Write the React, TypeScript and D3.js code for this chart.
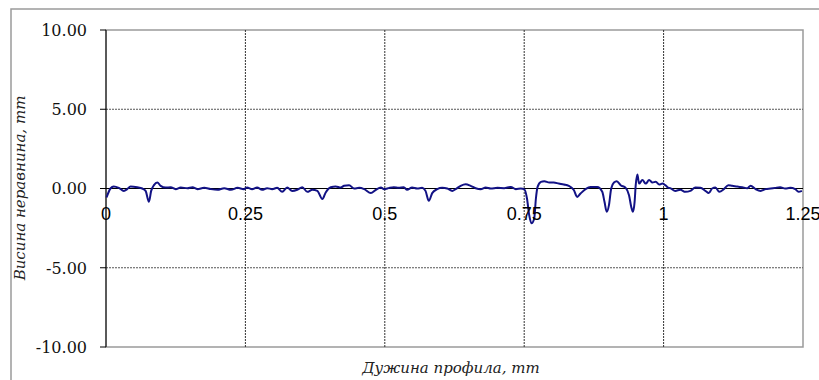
import React from 'react';
import * as d3 from 'd3';

// profile length, mm
const profileX = [
  0.001, 0.008, 0.014, 0.023, 0.032, 0.038, 0.044, 0.056, 0.065, 0.071, 0.077, 0.081, 0.086, 0.092, 0.098,
  0.107, 0.116, 0.125, 0.134, 0.146, 0.155, 0.164, 0.176, 0.188, 0.2, 0.212, 0.224, 0.236, 0.247,
  0.253, 0.262, 0.271, 0.28, 0.289, 0.298, 0.307, 0.316, 0.325, 0.334, 0.343, 0.352, 0.361, 0.37, 0.379,
  0.388, 0.394, 0.403, 0.412, 0.421, 0.427, 0.436, 0.445, 0.454, 0.463, 0.475, 0.484, 0.493, 0.499,
  0.508, 0.516, 0.525, 0.534, 0.54, 0.549, 0.558, 0.567, 0.573, 0.579, 0.585, 0.594, 0.603, 0.612, 0.621,
  0.627, 0.636, 0.645, 0.654, 0.663, 0.672, 0.681, 0.69, 0.702, 0.714, 0.726, 0.735, 0.744, 0.75,
  0.755, 0.759, 0.763, 0.768, 0.771, 0.774, 0.78, 0.786, 0.795, 0.803, 0.812, 0.821, 0.83, 0.839, 0.845,
  0.851, 0.86, 0.869, 0.881, 0.89, 0.894, 0.898, 0.902, 0.906, 0.911, 0.916, 0.923, 0.932, 0.938, 0.942,
  0.945, 0.948, 0.95, 0.953, 0.956, 0.962, 0.968, 0.974, 0.98, 0.986, 0.992, 0.998,
  1.003, 1.008, 1.012, 1.021, 1.03, 1.039, 1.048, 1.057, 1.066, 1.075, 1.081, 1.087, 1.093, 1.1, 1.108,
  1.116, 1.123, 1.132, 1.141, 1.15, 1.156, 1.165, 1.174, 1.183, 1.192, 1.2, 1.209, 1.218, 1.227, 1.236,
  1.242, 1.248,
];

// roughness height, mm
const profileY = [
  -0.57, 0, 0.13, 0.04, -0.15, -0.04, 0.13, 0.08, 0, -0.15, -0.84, -0.15, 0.21, 0.38, 0.17,
  0.06, 0.08, -0.04, 0.06, 0.02, 0.08, -0.04, 0.04, -0.04, -0.08, 0.02, -0.08, 0.04, -0.04,
  0.06, -0.04, 0.06, -0.08, 0.02, -0.04, 0.04, -0.21, 0.06, -0.15, -0.08, 0.08, -0.21, -0.08, -0.15,
  -0.67, -0.25, 0.08, 0.13, 0.06, 0.17, 0.21, 0, 0.04, -0.04, -0.29, -0.08, 0.06, -0.04,
  0.04, 0.08, 0.04, 0.08, -0.08, 0.06, 0, 0.04, -0.15, -0.78, -0.29, -0.04, 0.04, 0, -0.15,
  -0.04, 0.17, 0.27, 0.17, 0.02, -0.04, 0.06, 0, 0.04, 0.02, 0.1, -0.04, 0, -0.04,
  -0.63, -1.68, -2.2, -1.89, -0.63, 0.1, 0.42, 0.46, 0.38, 0.38, 0.31, 0.25, 0.17, -0.1, -0.53,
  -0.32, -0.04, 0.1, 0.1, -0.21, -0.84, -1.47, -1.05, 0, 0.38, 0.46, 0.21, 0.04, -0.42, -1.16,
  -1.47, -0.84, 0.21, 0.88, 0.31, 0.53, 0.31, 0.53, 0.38, 0.42, 0.25, 0.31,
  0.21, 0.06, 0.02, -0.15, -0.08, -0.21, -0.15, 0.06, 0.04, -0.15, -0.29, 0, 0.06, -0.21, -0.04,
  0.21, 0.17, 0.13, 0.08, 0.02, 0.17, -0.04, -0.15, -0.04, 0, 0.04, 0.08, 0, 0.04, -0.04,
  -0.21, -0.15,
];

const xTicks = [0, 0.25, 0.5, 0.75, 1, 1.25];
const xTickLabels = ['0', '0.25', '0.5', '0.75', '1', '1.25'];
const yTicks = [10, 5, 0, -5, -10];

const xTitle = 'Дужина профила, mm';
const yTitle = 'Висина неравнина, mm';

const W = 819;
const H = 380;
const plot = {left: 106, top: 30, right: 803, bottom: 347};

export default function App() {
  const x = d3.scaleLinear().domain([0, 1.25]).range([plot.left, plot.right]);
  const y = d3.scaleLinear().domain([-10, 10]).range([plot.bottom, plot.top]);

  const points: [number, number][] = profileX.map((v, i) => [v, profileY[i]]);
  const line = d3.line<[number, number]>()
    .x(d => x(d[0]))
    .y(d => y(d[1]))
    .curve(d3.curveMonotoneX);

  return (
    <svg width={W} height={H} style={{position: 'absolute', left: 0, top: 0}}>
      <rect x={0} y={0} width={W} height={H} fill="#fff"/>
      {/* chart frame, runs off the picture */}
      <rect x={11} y={9} width={W + 20} height={H + 20} fill="none" stroke="#9a9a9a" strokeWidth={1.5}/>

      {/* plot border */}
      <rect x={plot.left} y={plot.top} width={plot.right - plot.left} height={plot.bottom - plot.top}
            fill="none" stroke="#9a9a9a" strokeWidth={1.5}/>

      {/* grid */}
      {yTicks.filter(t => t !== 0 && Math.abs(t) !== 10).map(t => (
        <line key={'gy' + t} x1={plot.left} x2={plot.right} y1={y(t)} y2={y(t)}
              stroke="#555" strokeWidth={1} strokeDasharray="2,1"/>
      ))}
      {xTicks.filter(t => t !== 0 && t !== 1.25).map(t => (
        <line key={'gx' + t} x1={x(t)} x2={x(t)} y1={plot.top} y2={plot.bottom}
              stroke="#333" strokeWidth={1} strokeDasharray="2,1"/>
      ))}

      {/* axes */}
      <line x1={plot.left} x2={plot.right} y1={y(0)} y2={y(0)} stroke="#000" strokeWidth={1}/>
      <line x1={plot.left} x2={plot.left} y1={plot.top} y2={plot.bottom} stroke="#000" strokeWidth={1}/>
      {yTicks.map(t => (
        <g key={'ty' + t}>
          <line x1={plot.left - 6} x2={plot.left} y1={y(t)} y2={y(t)} stroke="#000" strokeWidth={1}/>
          <text x={87} y={y(t)} dy="0.36em" textAnchor="end" fontFamily="DejaVu Serif" fontSize={16} fill="#111">
            {t.toFixed(2)}
          </text>
        </g>
      ))}

      {/* profile */}
      <path d={line(points) || ''} fill="none" stroke="#121285" strokeWidth={2} strokeLinejoin="round"/>

      {xTicks.map((t, i) => (
        <text key={'tx' + t} x={x(t)} y={220} textAnchor="middle" fontFamily="Liberation Sans" fontSize={18} fill="#000">
          {xTickLabels[i]}
        </text>
      ))}

      <text x={451} y={373} textAnchor="middle" fontFamily="DejaVu Serif" fontStyle="italic" fontSize={15} fill="#222">
        {xTitle}
      </text>
      <text transform={`translate(25,188) rotate(-90)`} textAnchor="middle" fontFamily="DejaVu Serif"
            fontStyle="italic" fontSize={15} fill="#222">
        {yTitle}
      </text>
    </svg>
  );
}
